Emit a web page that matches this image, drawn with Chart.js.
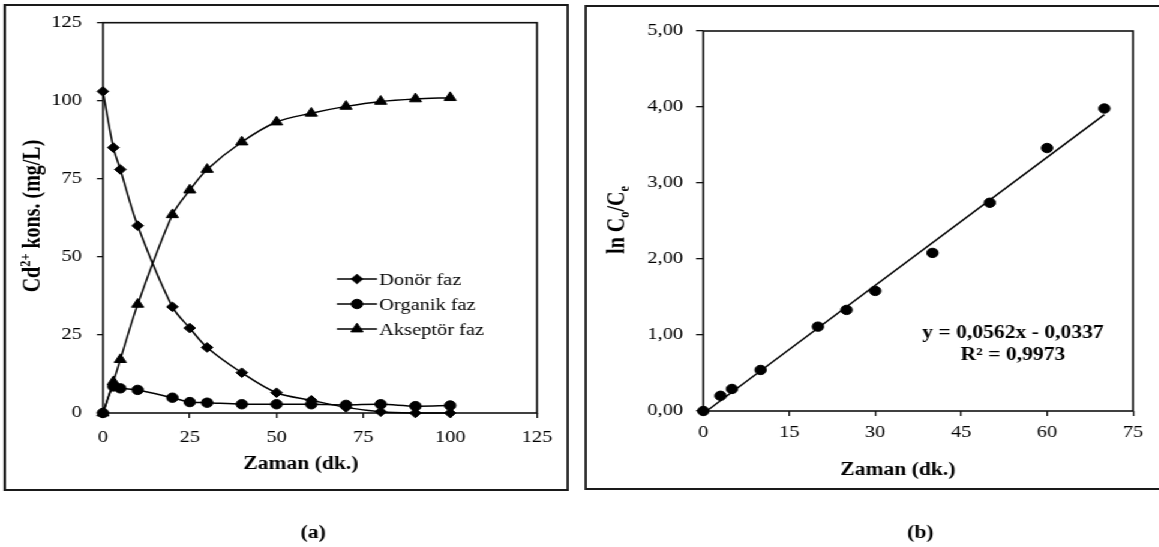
<!DOCTYPE html>
<html><head><meta charset="utf-8">
<script src="https://cdn.jsdelivr.net/npm/chart.js@4.4.1/dist/chart.umd.min.js"></script>
<style>
html,body{margin:0;padding:0;background:#fff;overflow:hidden;width:1159px;height:547px;}
#wrap{position:absolute;left:0;top:0;width:966px;height:547px;transform:scaleX(1.2);transform-origin:0 0;}
.box{position:absolute;border:2px solid #1a1a1a;box-sizing:border-box;}
#boxA{left:3.2px;top:4px;width:471px;height:487px;}
#boxB{left:486.5px;top:5px;width:500px;height:485px;}
canvas{position:absolute;top:0;}
#cA{left:0px;}
#cB{left:480px;}
</style></head>
<body>
<div id="wrap">
  <div class="box" id="boxA"></div>
  <div class="box" id="boxB"></div>
  <canvas id="cA" width="480" height="547"></canvas>
  <canvas id="cB" width="486" height="547"></canvas>
</div>
<script>
// ---- data (chart a) ----
const timeA = [0, 3, 5, 10, 20, 25, 30, 40, 50, 60, 70, 80, 90, 100];
const donor = [103, 85, 78, 60, 34, 27.2, 21, 12.9, 6.5, 4.1, 1.8, 0.4, 0, 0];
const organic = [0, 8.5, 7.9, 7.4, 4.9, 3.5, 3.3, 2.8, 2.8, 2.8, 2.6, 2.8, 2.2, 2.4];
const acceptor = [0, 10, 17.1, 34.8, 63.5, 71.4, 78, 86.8, 93.2, 96, 98.2, 99.8, 100.6, 101];
const seriesNamesA = ['Donör faz', 'Organik faz', 'Akseptör faz'];
const xTicksA = [0, 25, 50, 75, 100, 125];
const yTicksA = [0, 25, 50, 75, 100, 125];

// ---- data (chart b) ----
const timeB = [0, 3, 5, 10, 20, 25, 30, 40, 50, 60, 70];
const lnB = [0, 0.2, 0.29, 0.54, 1.11, 1.33, 1.58, 2.08, 2.74, 3.46, 3.98];
const trendX = [0, 70];
const trendY = [-0.0337, 3.9003];
const xTicksB = [0, 15, 30, 45, 60, 75];
const yTicksB = [0, 1, 2, 3, 4, 5];
const yTickLabelsB = ['0,00', '1,00', '2,00', '3,00', '4,00', '5,00'];
const eqLines = ['y = 0,0562x - 0,0337', 'R² = 0,9973'];

const SERIF = "'Liberation Serif', 'Times New Roman', serif";

function pts(xs, ys) { return xs.map((x, i) => ({x: x, y: ys[i]})); }

// draw text made of parts [{t, scale, dy}] along baseline starting at x
function drawParts(ctx, parts, x, y, size, bold, align) {
  const w = parts.map(p => { ctx.font = (bold ? 'bold ' : '') + (size * (p.scale || 1)) + 'px ' + SERIF; return ctx.measureText(p.t).width; });
  const total = w.reduce((a, b) => a + b, 0);
  let cx = align === 'center' ? x - total / 2 : x;
  ctx.textAlign = 'left';
  ctx.textBaseline = 'alphabetic';
  parts.forEach((p, i) => {
    ctx.font = (bold ? 'bold ' : '') + (size * (p.scale || 1)) + 'px ' + SERIF;
    ctx.fillText(p.t, cx, y + (p.dy || 0));
    cx += w[i];
  });
}

function drawMarker(ctx, style, x, y, r) {
  ctx.beginPath();
  if (style === 'rectRot') {
    ctx.moveTo(x - r, y); ctx.lineTo(x, y - r); ctx.lineTo(x + r, y); ctx.lineTo(x, y + r); ctx.closePath();
  } else if (style === 'triangle') {
    ctx.moveTo(x, y - r);
    ctx.lineTo(x + r * Math.sin(2 * Math.PI / 3), y - r * Math.cos(2 * Math.PI / 3));
    ctx.lineTo(x + r * Math.sin(4 * Math.PI / 3), y - r * Math.cos(4 * Math.PI / 3));
    ctx.closePath();
  } else {
    ctx.arc(x, y, r, 0, Math.PI * 2);
  }
  ctx.fill(); ctx.stroke();
}

const framePlugin = {
  id: 'frame',
  beforeDatasetsDraw(chart) {
    const a = chart.chartArea, ctx = chart.ctx;
    ctx.save();
    ctx.strokeStyle = '#111';
    ctx.lineWidth = 1.6;
    ctx.strokeRect(a.left, a.top, a.right - a.left, a.bottom - a.top);
    ctx.restore();
  }
};

function tickCfg(size, pad) {
  return {color: '#000', font: {family: SERIF, size: size}, padding: pad, maxRotation: 0, autoSkip: false};
}
function gridCfg(len) {
  return {display: true, drawOnChartArea: false, drawTicks: true, tickLength: len, color: '#111', lineWidth: 1.3};
}

// ---------------- Chart A ----------------
const decoA = {
  id: 'decoA',
  afterDraw(chart) {
    const ctx = chart.ctx;
    ctx.save();
    ctx.fillStyle = '#000';
    // y title (rotated)
    ctx.translate(33, 216);
    ctx.rotate(-Math.PI / 2);
    drawParts(ctx, [{t: 'Cd'}, {t: '2+', scale: 0.62, dy: -8}, {t: ' kons. (mg/L)'}], 0, 0, 20, true, 'center');
    ctx.restore();
    ctx.save();
    ctx.fillStyle = '#000';
    drawParts(ctx, [{t: 'Zaman (dk.)'}], 250.8, 469, 18, true, 'center');
    drawParts(ctx, [{t: '(a)'}], 261, 538, 18, true, 'center');
    // legend
    const rows = [279, 304, 329];
    chart.data.datasets.forEach((ds, i) => {
      const y = rows[i];
      ctx.strokeStyle = '#000'; ctx.lineWidth = 1.5;
      ctx.beginPath(); ctx.moveTo(280.8, y); ctx.lineTo(314.2, y); ctx.stroke();
      ctx.fillStyle = '#000'; ctx.lineWidth = 1;
      drawMarker(ctx, ds.pointStyle, 297.5, y, ds.pointRadius);
      ctx.fillStyle = '#000';
      drawParts(ctx, [{t: ds.label}], 316, y + 6, 17, false, 'left');
    });
    ctx.restore();
  }
};

const styleA = [
  {pointStyle: 'rectRot', pointRadius: 4.8},
  {pointStyle: 'circle', pointRadius: 4.7},
  {pointStyle: 'triangle', pointRadius: 5.8}
];
const valuesA = [donor, organic, acceptor];

new Chart(document.getElementById('cA'), {
  type: 'line',
  data: {
    datasets: valuesA.map((vals, i) => ({
      label: seriesNamesA[i],
      data: pts(timeA, vals),
      borderColor: '#000',
      backgroundColor: '#000',
      pointBackgroundColor: '#000',
      pointBorderColor: '#000',
      pointBorderWidth: 1,
      borderWidth: 1.5,
      tension: 0.33,
      clip: false,
      pointStyle: styleA[i].pointStyle,
      pointRadius: styleA[i].pointRadius
    }))
  },
  options: {
    responsive: false, animation: false, events: [],
    layout: {padding: {left: 0, top: 18, right: 32.5, bottom: 0}},
    plugins: {legend: {display: false}, tooltip: {enabled: false}},
    scales: {
      x: {
        type: 'linear', min: 0, max: 125,
        afterBuildTicks: s => { s.ticks = xTicksA.map(v => ({value: v})); },
        afterFit: s => { s.height = 134; },
        grid: gridCfg(5), border: {display: false},
        ticks: tickCfg(17, 9.8)
      },
      y: {
        type: 'linear', min: 0, max: 125,
        afterBuildTicks: s => { s.ticks = yTicksA.map(v => ({value: v})); },
        afterFit: s => { s.width = 85.8; },
        grid: gridCfg(5), border: {display: false},
        ticks: tickCfg(17, 12.5)
      }
    }
  },
  plugins: [framePlugin, decoA]
});

// ---------------- Chart B ----------------
const decoB = {
  id: 'decoB',
  afterDraw(chart) {
    const ctx = chart.ctx;
    ctx.save();
    ctx.fillStyle = '#000';
    ctx.translate(40, 220);
    ctx.rotate(-Math.PI / 2);
    drawParts(ctx, [{t: 'ln C'}, {t: 'o', scale: 0.62, dy: 4}, {t: '/C'}, {t: 'e', scale: 0.62, dy: 4}], 0, 0, 20, true, 'center');
    ctx.restore();
    ctx.save();
    ctx.fillStyle = '#000';
    drawParts(ctx, [{t: 'Zaman (dk.)'}], 268.3, 475, 18, true, 'center');
    drawParts(ctx, [{t: '(b)'}], 287, 538, 18, true, 'center');
    drawParts(ctx, [{t: eqLines[0]}], 364.2, 338, 18, true, 'center');
    drawParts(ctx, [{t: eqLines[1]}], 364.2, 360, 18, true, 'center');
    ctx.restore();
  }
};

new Chart(document.getElementById('cB'), {
  type: 'line',
  data: {
    datasets: [
      {
        label: 'data',
        data: pts(timeB, lnB),
        showLine: false,
        pointStyle: 'circle', pointRadius: 4.7,
        pointBackgroundColor: '#000', pointBorderColor: '#000', pointBorderWidth: 1,
        borderColor: '#000', backgroundColor: '#000',
        clip: false, order: 1
      },
      {
        label: 'trend',
        data: pts(trendX, trendY),
        borderColor: '#000', borderWidth: 1.5,
        pointRadius: 0, tension: 0,
        clip: false, order: 2
      }
    ]
  },
  options: {
    responsive: false, animation: false, events: [],
    layout: {padding: {left: 0, top: 31, right: 21.8, bottom: 0}},
    plugins: {legend: {display: false}, tooltip: {enabled: false}},
    scales: {
      x: {
        type: 'linear', min: 0, max: 75,
        afterBuildTicks: s => { s.ticks = xTicksB.map(v => ({value: v})); },
        afterFit: s => { s.height = 136; },
        grid: gridCfg(5), border: {display: false},
        ticks: tickCfg(17, 6.8)
      },
      y: {
        type: 'linear', min: 0, max: 5,
        afterBuildTicks: s => { s.ticks = yTicksB.map(v => ({value: v})); },
        afterFit: s => { s.width = 106.1; },
        grid: gridCfg(6), border: {display: false},
        ticks: Object.assign(tickCfg(17, 10.9), {callback: (v) => yTickLabelsB[yTicksB.indexOf(v)]})
      }
    }
  },
  plugins: [framePlugin, decoB]
});
</script>
</body></html>
